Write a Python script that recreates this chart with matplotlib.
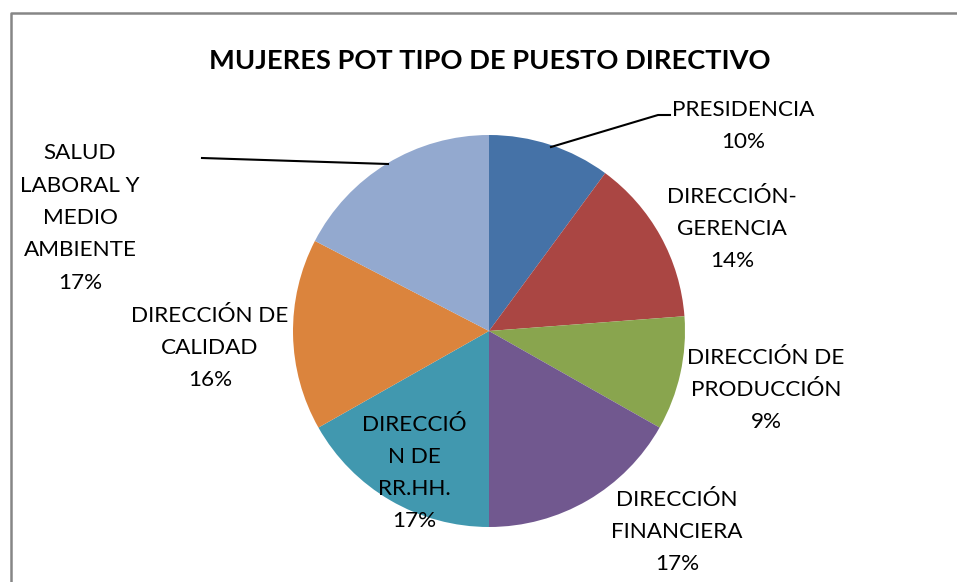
import matplotlib
matplotlib.use("Agg")
import matplotlib.pyplot as plt

categories = ["PRESIDENCIA", "DIRECCIÓN-\nGERENCIA", "DIRECCIÓN DE\nPRODUCCIÓN",
              "DIRECCIÓN\nFINANCIERA", "DIRECCIÓ\nN DE\nRR.HH.", "DIRECCIÓN DE\nCALIDAD",
              "SALUD\nLABORAL Y\nMEDIO\nAMBIENTE"]
values = [10.1, 13.7, 9.4, 16.8, 16.8, 15.8, 17.4]
colors = ["#4572A7", "#AA4643", "#89A54E", "#71588F", "#4198AF", "#DB843D", "#93A9CF"]
title = "MUJERES POT TIPO DE PUESTO DIRECTIVO"

W, H = 957, 582
plt.rcParams['font.family'] = ['Lato', 'DejaVu Sans']
fig = plt.figure(figsize=(W / 100, H / 100), dpi=100)


def px(x, y):
    return (x / W, 1 - y / H)


# chart border (left and top edges visible; right/bottom cropped)
xs, ys = zip(*[px(*p) for p in [(10.5, 600), (10.5, 12.5), (960, 12.5)]])
fig.add_artist(plt.Line2D(xs, ys, transform=fig.transFigure, color="#868686", linewidth=1.8))

cx, cy, r = 489, 331, 196
ax = fig.add_axes([(cx - r) / W, (H - cy - r) / H, 2 * r / W, 2 * r / H])
ax.pie(values, colors=colors, startangle=90, counterclock=False, radius=1,
       wedgeprops=dict(linewidth=0))
ax.set_xlim(-1, 1)
ax.set_ylim(-1, 1)
ax.set_aspect("equal")
ax.axis("off")

fig.text(490 / W, 1 - 61 / H, title, ha="center", va="center", fontsize=19.6,
         fontweight="bold")

# label positions in pixels (center x, center y of block)
label_pos = [(743, 126), (732, 229), (766, 390), (677, 532), (414, 473), (210, 348), (80, 218)]
for cat, v, (lx, ly) in zip(categories, values, label_pos):
    fig.text(lx / W, 1 - ly / H, f"{cat}\n{round(v):.0f}%", ha="center", va="center",
             fontsize=16.2, linespacing=1.77, color="black")

# leader lines
for pts in ([(551, 147), (658, 115), (670, 115)], [(388, 164), (202, 158)]):
    xs, ys = zip(*[px(*p) for p in pts])
    fig.add_artist(plt.Line2D(xs, ys, transform=fig.transFigure, color="black", linewidth=1.5))

fig.savefig("out.png", dpi=100)
